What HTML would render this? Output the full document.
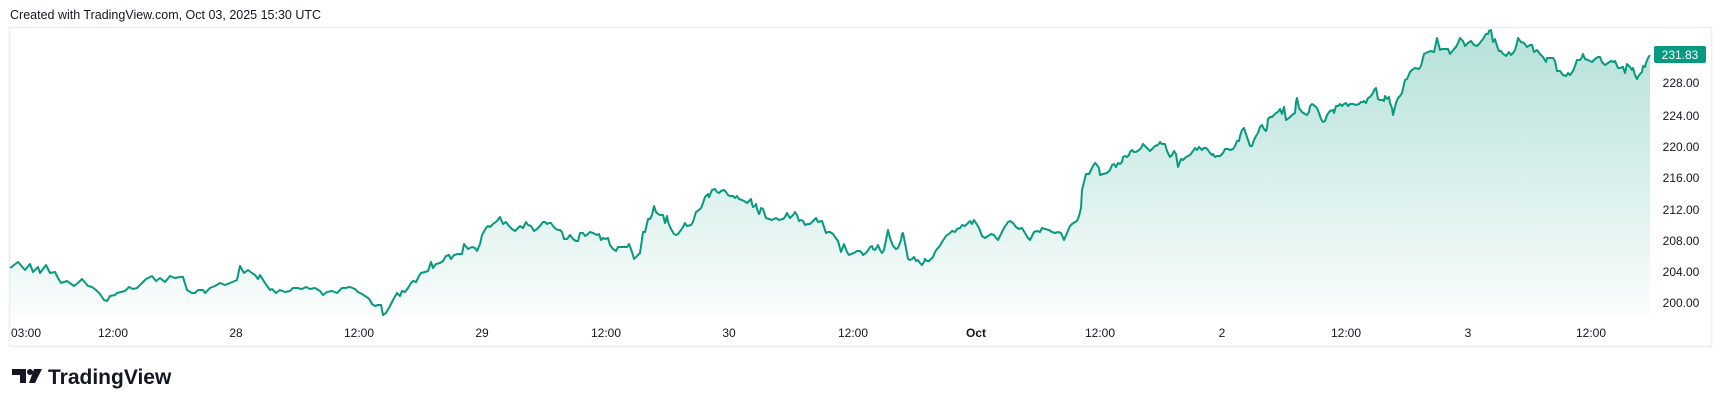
<!DOCTYPE html>
<html><head><meta charset="utf-8"><style>
body{margin:0;background:#fff;width:1722px;height:407px;overflow:hidden;font-family:"Liberation Sans",sans-serif}
</style></head><body>
<svg width="1722" height="407" xmlns="http://www.w3.org/2000/svg" font-family="Liberation Sans, sans-serif">
<defs><linearGradient id="g" x1="0" y1="0" x2="0" y2="1">
<stop offset="0" stop-color="#089981" stop-opacity="0.3"/>
<stop offset="1" stop-color="#089981" stop-opacity="0.02"/></linearGradient></defs>
<text x="10" y="19" font-size="12.5" fill="#131722">Created with TradingView.com, Oct 03, 2025 15:30 UTC</text>
<rect x="9.5" y="27.5" width="1702" height="319" fill="#fff" stroke="#eceef2" stroke-width="1.5"/>
<g id="series">
<path id="ln" fill="none" d=""/>
</g>
<script>
var a1=[[10,268],[18,262],[25,270],[30,264],[33,272],[38,267],[40,273],[46,265],[50,273],[55,272],[58,278],[61,283],[67,281],[74,286],[79,282],[82,279],[88,286],[92,287],[96,290],[100,294],[104,300],[107,301],[110,296],[115,295],[117,293],[121,292],[125,291],[129,287],[133,289],[137,288],[140,285],[146,279],[152,276],[156,281],[160,278],[165,282],[170,276],[175,278],[180,277],[183,277],[187,290],[192,293],[195,293],[198,290],[203,290],[205,293],[210,288],[215,286],[220,283],[225,285],[230,283],[237,280],[240,266],[244,273],[248,270],[252,273],[255,275],[258,279],[260,275],[265,283],[270,290],[272,289],[276,293],[280,290],[285,292],[290,291],[293,288],[297,288],[302,289],[306,287],[310,289],[315,288],[320,291],[323,295],[327,292],[332,291],[337,293],[342,288],[345,288],[350,287],[355,289],[358,292],[362,294],[365,296],[368,298],
[370,300],[372,304],[375,306],[378,305],[381,305],[383,315],[386,313],[390,306],[393,300],[397,293],[400,296],[402,291],[405,292],[408,288],[411,283],[413,281],[416,282],[419,276],[421,273],[425,272],[428,271],[431,262],[433,268],[436,264],[440,263],[443,261],[446,256],[449,255],[451,259],[454,255],[458,254],[462,254],[464,244],[468,249],[470,248],[472,247],[475,248],[477,251],[480,244],[482,235],[486,228],[488,226],[490,227],[493,224],[497,221],[500,217],[503,224],[506,222],[509,226],[512,229],[515,231],
[518,228],[520,226],[523,228],[526,222],[528,225],[531,226],[534,231],[537,229],[540,226],[543,222],[545,222],[547,224],[549,223],[551,223],[553,226],[556,229],[558,230],[560,230],[562,232],[564,239],[567,239],[570,235],[573,239],[576,241],[578,241],[580,233],[583,233],[585,236],[588,234],[590,232],[593,233],[595,234],[597,235],[599,234],[601,240],[603,238],[605,239],[608,238],[610,245],[613,249],[616,251],[618,247],[620,247],[624,247],[627,247],[629,244],[632,252],[634,259],[638,255],[640,253],[642,239],[643,232],[645,232],[646,228],[648,219],[650,219],[652,215],[654,206],[656,212],[658,214],[660,215],
[663,215],[665,223],[667,216],[668,222],[671,229],[674,234],[676,235],[678,234],[681,230],[683,227],[685,223],[687,226],[691,225],[693,222],[696,212],[699,210],[701,208],[703,203],[705,197],[708,194],[709,197],[712,190],[715,189],[717,192],[719,193],[721,191],[724,190],[726,192],[728,195],[730,196],[733,196],[735,198],[737,196],[739,199],[742,200],[744,201],[747,203],[749,201],[751,199],[752,204],[753,207],[755,206],[756,204],[757,209],[759,214],[760,212],[761,208],[763,209],[764,212],[766,218],[769,219],[772,220],[774,219],[776,218],[779,220],[783,219],[785,217],[787,213],[788,215],[790,218],[793,215],[795,212],[797,215],[799,221],[801,220],[803,221],[805,225],
[808,224],[810,224],[814,220],[816,218],[818,222],[822,221],[824,227],[826,233],[828,232],[830,232],[833,234],[835,237],[838,241],[841,252],[844,244],[847,252],[849,255],[851,254],[854,253],[857,251],[860,251],[862,253],[863,255],[866,253],[869,249],[870,247],[872,246],[873,249],[875,250],[877,247],[878,245],[880,250],[882,253],[884,250],[886,240],[888,230],[890,238],[893,246],[896,249],[898,248],[900,243],[901,240],[902,234],[903,233],[904,238],[906,248],[908,259],[910,260],[912,259],[914,257],[916,261],[918,260],[920,263],[922,265],[924,262],[925,259],[927,261],[929,261],[931,259],[933,257],[935,252],[937,249],[939,247],[942,242],[946,236],
[950,233],[952,231],[955,232],[957,229],[960,228],[962,225],[965,226],[967,224],[970,221],[972,224],[974,220],[976,223],[979,228],[982,236],[985,238],[988,236],[991,234],[994,235],[996,238],[998,240],[1000,236],[1004,228],[1008,222],[1010,221],[1013,223],[1016,227],[1019,229],[1022,228],[1025,233],[1028,238],[1030,240],[1034,232],[1037,231],[1040,232],[1042,228],[1045,229],[1049,230],[1052,232],[1055,233],[1058,232],[1061,233],[1064,240],[1067,233],[1070,226],[1072,224],[1075,222],[1077,221],[1079,216],[1081,208],[1082,190],[1084,182],[1086,174],[1089,174],[1091,170],[1093,166],[1095,163],[1097,165],[1099,168],[1100,175],[1103,174],[1107,173],[1110,170],[1112,165],[1114,164],[1116,167],[1118,163],[1120,164],[1122,162],[1123,157],[1125,156],[1127,157],[1129,155],[1130,152],[1132,150],[1134,152],[1136,152],[1139,150],[1141,148],[1143,144],[1146,147],[1150,151],
[1152,149],[1155,146],[1158,145],[1160,142],[1162,144],[1165,144],[1167,151],[1170,157],[1172,155],[1174,151],[1176,154],[1178,167],[1181,159],[1183,160],[1186,157],[1190,155],[1193,151],[1195,148],[1197,150],[1199,147],[1202,150],[1204,148],[1206,148],[1208,150],[1210,153],[1212,155],[1213,154],[1215,157],[1217,156],[1220,156],[1223,153],[1225,149],[1228,149],[1230,150],[1233,149],[1235,146],[1237,141],[1239,141],[1240,136],[1242,130],[1244,128],[1246,134],[1248,140],[1250,146],[1252,146],[1254,140],[1256,136],[1258,133],[1260,127],[1262,125],[1264,129],[1266,131],[1267,128],[1268,119],[1270,117],[1272,117],[1274,115],[1276,113],[1278,112],[1280,109],[1282,114],[1284,107],[1286,120],[1289,118],[1292,115],[1295,113],[1296,102],[1297,98],[1299,108],[1302,112],[1305,114],[1307,115],[1309,112],[1310,106],[1312,104],[1315,106],[1317,108],[1319,113],[1321,119],[1323,122],[1325,121],[1327,115],[1330,111],[1333,110],[1334,113],[1336,106],[1338,106],[1340,104],[1342,106],[1344,104],[1346,103],[1348,106],[1350,104],[1353,104],[1356,105],[1359,104],[1361,102],[1363,102],[1364,101],[1366,103],[1368,98],[1370,97],[1373,93],[1374,90],[1376,88],[1378,99],[1380,100],[1383,100],[1384,101],[1385,96],[1387,99],[1389,97],[1390,103],[1392,108],[1393,115],[1396,103],[1398,98],
[1400,96],[1402,93],[1405,80],[1407,79],[1410,72],[1412,70],[1415,68],[1419,69],[1421,66],[1424,54],[1428,52],[1431,51],[1434,52],[1437,38],[1440,50],[1442,49],[1448,49],[1450,54],[1454,49],[1456,47],[1458,43],[1460,38],[1463,41],[1465,46],[1468,43],[1471,41],[1474,45],[1477,46],[1479,44],[1483,39],[1486,34],[1488,34],[1489,31],[1491,30],[1493,42],[1495,39],[1497,46],[1499,51],[1501,51],[1503,54],[1505,55],[1506,56],[1509,52],[1511,55],[1513,53],[1515,50],[1517,43],[1518,38],[1521,42],[1524,43],[1527,47],[1530,45],[1532,45],[1534,52],[1537,50],[1540,54],[1543,57],[1546,62],[1547,58],[1550,58],[1553,58],[1555,61],[1557,71],[1560,71],[1563,75],[1566,76],[1568,73],[1570,75],[1573,71],[1575,66],[1577,60],[1580,60],[1582,57],[1583,54],[1585,59],[1588,60],[1592,62],[1595,59],[1598,57],[1600,57],[1602,62],[1605,65],[1608,63],[1611,61],[1614,62],[1615,61],[1618,68],[1620,68],[1623,67],[1625,73],[1627,64],[1630,67],[1632,70],[1633,68],[1635,75],[1637,79],[1638,77],[1640,74],[1642,72],[1643,66],[1645,67],[1646,63],[1648,58],[1650,55]];
var pts=a1;
var d="M"+pts.map(function(p){return p[0]+","+p[1]}).join("L");
var ns="http://www.w3.org/2000/svg",g=document.getElementById("series");
var a=document.createElementNS(ns,"path");a.setAttribute("d",d+"L1650,315L10,315Z");a.setAttribute("fill","url(#g)");
g.insertBefore(a,g.firstChild);
var l=document.getElementById("ln");l.setAttribute("d",d);l.setAttribute("stroke","#089981");l.setAttribute("stroke-width","2");l.setAttribute("stroke-linejoin","round");
</script>
<g font-size="12" fill="#131722" text-anchor="middle">
<text x="1681" y="87">228.00</text>
<text x="1681" y="120">224.00</text>
<text x="1681" y="151">220.00</text>
<text x="1681" y="182">216.00</text>
<text x="1681" y="214">212.00</text>
<text x="1681" y="245">208.00</text>
<text x="1681" y="276">204.00</text>
<text x="1681" y="307">200.00</text>
</g>
<rect x="1654" y="46" width="52" height="17" rx="2" fill="#089981"/>
<text x="1680" y="59" font-size="12" fill="#fff" text-anchor="middle">231.83</text>
<g font-size="12" fill="#131722" text-anchor="middle">
<text x="26" y="337">03:00</text>
<text x="113" y="337">12:00</text>
<text x="236" y="337">28</text>
<text x="359" y="337">12:00</text>
<text x="482" y="337">29</text>
<text x="606" y="337">12:00</text>
<text x="729" y="337">30</text>
<text x="853" y="337">12:00</text>
<text x="976" y="337" font-weight="bold">Oct</text>
<text x="1100" y="337">12:00</text>
<text x="1222" y="337">2</text>
<text x="1346" y="337">12:00</text>
<text x="1468" y="337">3</text>
<text x="1591" y="337">12:00</text>
</g>
<g fill="#131722">
<path d="M12,369h14v14h-6v-8h-8z"/><circle cx="30" cy="372" r="3"/><path d="M34,369h8l-7,14h-6z"/>
</g>
<text x="48" y="384" font-size="21" font-weight="bold" fill="#131722">TradingView</text>
</svg>
</body></html>
